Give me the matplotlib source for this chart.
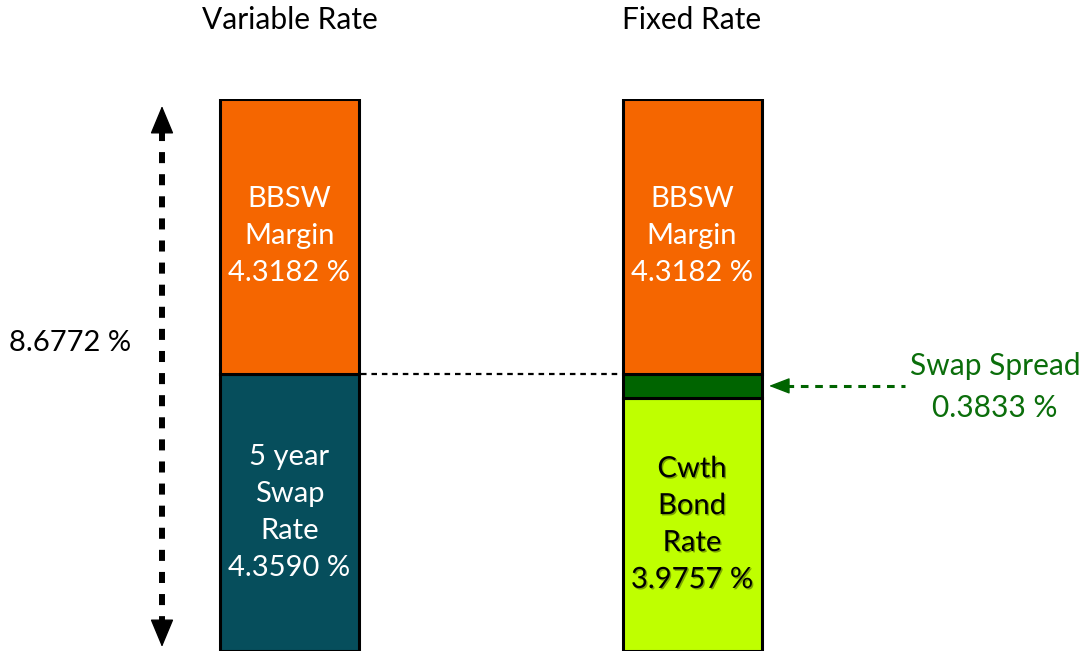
import matplotlib.pyplot as plt
import matplotlib.patheffects as pe

# values in percent
bbsw_margin = 4.3182
swap_rate = 4.3590
bond_rate = 3.9757
swap_spread = 0.3833
total = swap_rate + bbsw_margin

titles = ["Variable Rate", "Fixed Rate"]

orange = "#F56600"
teal = "#064E5C"
dkgreen = "#006400"
lime = "#BFFF00"
txtgreen = "#0B6E0B"

plt.rcParams['font.family'] = ['Lato', 'DejaVu Sans']

fig = plt.figure(figsize=(10.85, 6.53), dpi=100)
ax = fig.add_axes([0, 2 / 653, 1, 552 / 653])
ax.set_xlim(0, 1085)
ax.set_ylim(0, total)
ax.axis('off')

def py(p):
    # pixel row -> data value
    return total * (651 - p) / 552

xl, xr, w = 289.5, 692, 139
kw = dict(width=w, edgecolor='black', linewidth=2.2)

# variable rate bar
ax.bar(xl, swap_rate, color=teal, **kw)
ax.bar(xl, bbsw_margin, bottom=swap_rate, color=orange, **kw)

# fixed rate bar
ax.bar(xr, bond_rate, color=lime, **kw)
ax.bar(xr, swap_spread, bottom=bond_rate, color=dkgreen, **kw)
ax.bar(xr, bbsw_margin, bottom=bond_rate + swap_spread, color=orange, **kw)

shadow = [pe.withSimplePatchShadow(offset=(1, -1), alpha=0.35)]
tk = dict(ha='center', va='center', fontsize=21, linespacing=1.52, clip_on=False)

ax.text(xl, swap_rate + bbsw_margin / 2, f"BBSW\nMargin\n{bbsw_margin:.4f} %",
        color='white', **tk)
ax.text(xr, bond_rate + swap_spread + bbsw_margin / 2, f"BBSW\nMargin\n{bbsw_margin:.4f} %",
        color='white', **tk)
ax.text(xl, swap_rate / 2, f"5 year\nSwap\nRate\n{swap_rate:.4f} %",
        color='white', **tk)
ax.text(xr, bond_rate / 2, f"Cwth\nBond\nRate\n{bond_rate:.4f} %",
        color='black', path_effects=shadow, **tk)

# titles
ax.text(xl, py(20), titles[0], ha='center', va='center', fontsize=21.5, clip_on=False)
ax.text(xr, py(20), titles[1], ha='center', va='center', fontsize=21.5, clip_on=False)

# total arrow
ax.plot([162, 162], [py(130), py(624)], color='black', lw=4.3,
        dashes=(1.85, 1.85), solid_capstyle='butt', dash_capstyle='butt', clip_on=False)
head = '-|>,head_length=1.8,head_width=0.75'
ax.annotate('', xy=(162, py(106)), xytext=(162, py(134)),
            arrowprops=dict(arrowstyle=head, color='black', lw=1, shrinkA=0, shrinkB=0),
            annotation_clip=False)
ax.annotate('', xy=(162, py(647)), xytext=(162, py(619)),
            arrowprops=dict(arrowstyle=head, color='black', lw=1, shrinkA=0, shrinkB=0),
            annotation_clip=False)
ax.text(70, py(343), f"{total:.4f} %", ha='center', va='center', fontsize=21, clip_on=False)

# level line between bars
ax.plot([xl + w / 2 + 2, xr - w / 2 - 1], [swap_rate, swap_rate], color='black', lw=1.6,
        dashes=(2.5, 2.2))

# swap spread pointer
ys = bond_rate + swap_spread / 2
ax.plot([786, 905], [ys, ys], color=dkgreen, lw=2.2, dashes=(2.5, 2.2), solid_capstyle='butt')
ax.annotate('', xy=(769, ys), xytext=(790, ys),
            arrowprops=dict(arrowstyle='-|>,head_length=1.3,head_width=0.5', color=dkgreen,
                            lw=1, shrinkA=0, shrinkB=0))
ax.text(995, py(387), f"Swap Spread\n{swap_spread:.4f} %", ha='center', va='center',
        fontsize=21.5, color=txtgreen, linespacing=1.62, clip_on=False)

fig.savefig('out.png', dpi=100)
